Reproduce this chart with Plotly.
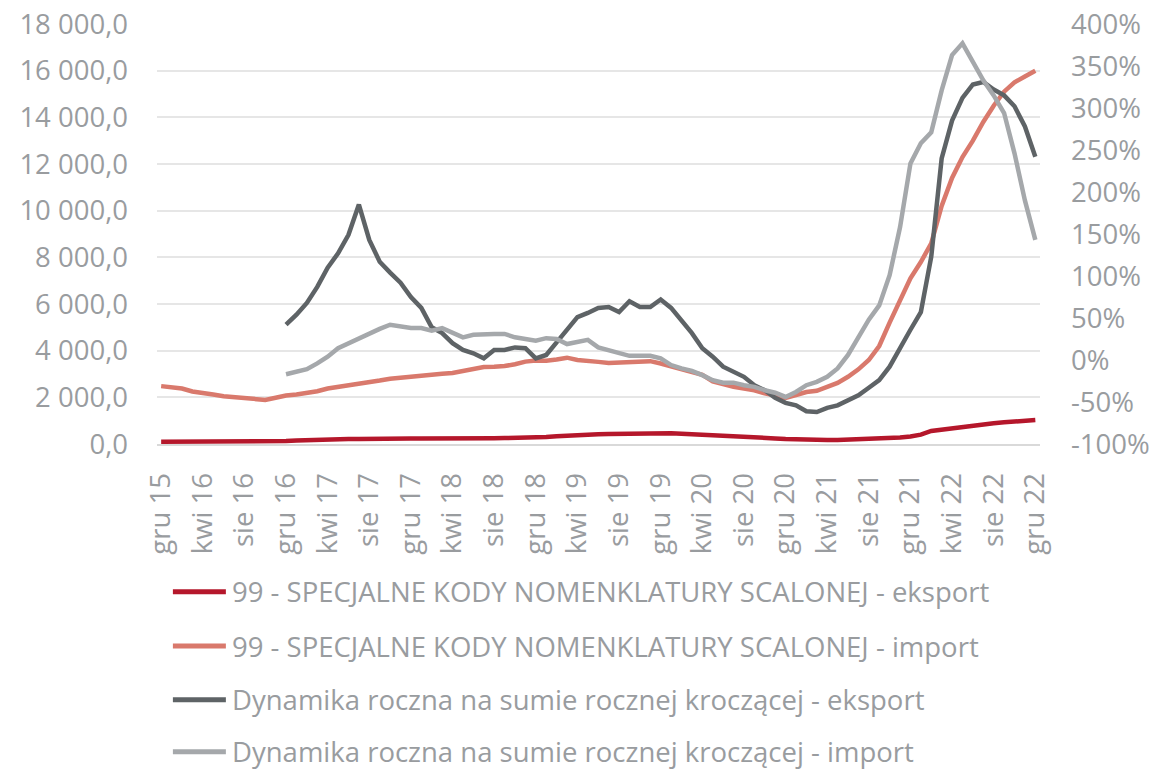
import plotly.graph_objects as go

# Monthly periods, Dec 2015 - Dec 2022 (Polish month abbreviations)
month_abbr = ["sty", "lut", "mar", "kwi", "maj", "cze", "lip", "sie", "wrz", "paź", "lis", "gru"]
periods = ["gru 15"] + [f"{month_abbr[m]} {y % 100:02d}" for y in range(2016, 2023) for m in range(12)]

# Values (mln) - left axis
eksport = [
    100, 100, 100, 95, 95, 90, 90, 95, 100, 105, 110, 120,
    130, 150, 170, 190, 200, 210, 215, 215, 210, 220, 225, 230,
    235, 235, 230, 230, 235, 240, 245, 250, 250, 255, 260, 265,
    280, 300, 330, 360, 390, 410, 420, 430, 440, 450, 460, 465,
    465, 460, 440, 420, 400, 390, 380, 350, 330, 310, 280, 240,
    210, 190, 175, 170, 170, 175, 185, 195, 210, 230, 250, 280,
    320, 400, 560, 620, 680, 740, 800, 850, 890, 930, 970, 1000, 1030,
]
import_ = [
    2480, 2420, 2380, 2250, 2200, 2120, 2050, 2000, 1960, 1930, 1890, 1980,
    2080, 2120, 2180, 2260, 2380, 2440, 2500, 2580, 2660, 2720, 2800, 2850,
    2870, 2910, 2960, 3010, 3040, 3130, 3220, 3300, 3310, 3340, 3420, 3530,
    3580, 3570, 3620, 3700, 3600, 3580, 3520, 3470, 3500, 3520, 3560, 3550,
    3450, 3320, 3180, 3080, 2960, 2680, 2560, 2450, 2380, 2300, 2170, 2060,
    1970, 2100, 2230, 2280, 2450, 2620, 2880, 3200, 3600, 4200, 5200, 6200,
    7100, 7800, 8600, 10200, 11400, 12300, 13000, 13800, 14500, 15100, 15500, 15750, 16000,
]

# Year-on-year dynamics on rolling annual sum (%) - right axis, from Dec 2016
dyn_eksport = [None] * 12 + [
    42, 54, 68, 87, 110, 127, 149, 185, 143, 117, 104, 92,
    75, 62, 39, 32, 20, 12, 8, 2, 12, 12, 15, 14,
    2, 6, 21, 35, 51, 56, 62, 63, 57, 70, 63, 63,
    72, 62, 48, 32, 14, 4, -8, -14, -20, -30, -36, -45,
    -51, -54, -61, -62, -57, -54, -48, -42, -33, -24, -8, 15,
    36, 57, 123, 240, 285, 312, 328, 331, 322, 315, 302, 278, 242,
]
dyn_import = [None] * 12 + [
    -17, -14, -11, -4, 4, 14, 20, 26, 31, 37, 42, 40,
    38, 38, 35, 38, 32, 27, 30, 31, 31, 31, 27, 25,
    23, 26, 25, 19, 21, 24, 15, 12, 8, 5, 5, 5,
    2, -6, -10, -13, -18, -24, -27, -27, -30, -32, -36, -39,
    -44, -38, -30, -26, -20, -10, 6, 26, 48, 65, 101, 158,
    234, 258, 271, 321, 363, 377, 355, 333, 315, 294, 246, 190, 143,
]

series_names = [
    "99 - SPECJALNE KODY NOMENKLATURY SCALONEJ - eksport",
    "99 - SPECJALNE KODY NOMENKLATURY SCALONEJ - import",
    "Dynamika roczna na sumie rocznej kroczącej - eksport",
    "Dynamika roczna na sumie rocznej kroczącej - import",
]
colors = ["#B5172B", "#D9796C", "#5E6366", "#A5A8AB"]

x_tickvals = periods[::4]
left_tickvals = list(range(0, 18001, 2000))
right_tickvals = list(range(-100, 401, 50))
right_ticktext = [f"{v}%" for v in right_tickvals]

FONT = "Open Sans"
TXT = "#999C9F"
FS = 27.5

fig = go.Figure()
fig.add_trace(go.Scatter(x=periods, y=eksport, mode="lines", name=series_names[0],
                         line=dict(color=colors[0], width=4.5)))
fig.add_trace(go.Scatter(x=periods, y=import_, mode="lines", name=series_names[1],
                         line=dict(color=colors[1], width=4.5)))
fig.add_trace(go.Scatter(x=periods, y=dyn_eksport, mode="lines", name=series_names[2],
                         line=dict(color=colors[2], width=4.5), yaxis="y2"))
fig.add_trace(go.Scatter(x=periods, y=dyn_import, mode="lines", name=series_names[3],
                         line=dict(color=colors[3], width=4.5), yaxis="y2"))

# Legend drawn below the plot: line samples + labels
legend_rows_y = [-0.352, -0.481, -0.609, -0.733]
shapes = []
annotations = []
for name, col, yy in zip(series_names, colors, legend_rows_y):
    shapes.append(dict(type="line", xref="paper", yref="paper",
                       x0=0.018, x1=0.078, y0=yy, y1=yy,
                       line=dict(color=col, width=5)))
    annotations.append(dict(xref="paper", yref="paper", x=0.083, y=yy,
                            xanchor="left", yanchor="middle", showarrow=False,
                            text=name, font=dict(family=FONT, size=FS, color=TXT)))

fig.update_layout(
    width=1155, height=771,
    margin=dict(l=157, r=115, t=24, b=327, autoexpand=False),
    paper_bgcolor="white", plot_bgcolor="white",
    showlegend=False,
    separators=", ",
    font=dict(family=FONT, size=FS, color=TXT),
    xaxis=dict(
        type="category", range=[-0.4, 84.45], automargin=False,
        tickmode="array", tickvals=x_tickvals, ticktext=x_tickvals,
        tickangle=-90, ticks="", showgrid=False,
        showline=True, linecolor="#D9D9D9", linewidth=2,
        ticklabelstandoff=16,
        tickfont=dict(family=FONT, size=FS, color=TXT),
    ),
    yaxis=dict(
        range=[0, 18000], tickmode="array", tickvals=left_tickvals, automargin=False,
        tickformat=",.1f", showgrid=True, gridcolor="#E6E6E6", gridwidth=2,
        zeroline=False, ticks="", ticklabelstandoff=28,
        tickfont=dict(family=FONT, size=FS, color=TXT),
    ),
    yaxis2=dict(
        range=[-100, 400], overlaying="y", side="right", automargin=False,
        tickmode="array", tickvals=right_tickvals, ticktext=right_ticktext,
        showgrid=False, zeroline=False, ticks="", ticklabelstandoff=30,
        tickfont=dict(family=FONT, size=FS, color=TXT),
    ),
    shapes=shapes,
    annotations=annotations,
)

fig.write_html("out.html")
